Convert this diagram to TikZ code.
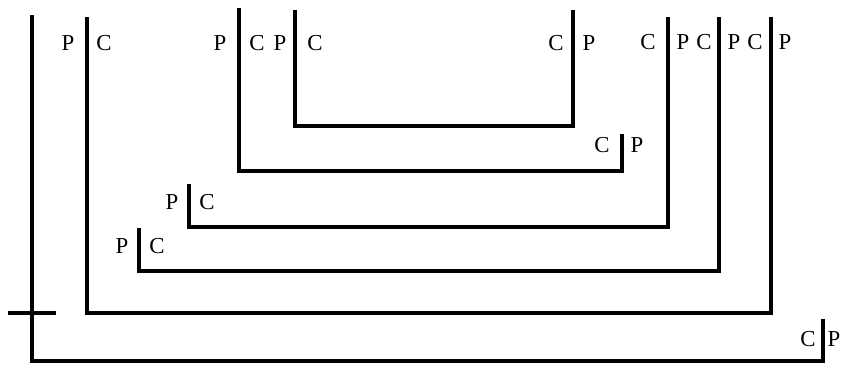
\documentclass[tikz,border=0pt]{standalone}
\usepackage{fontspec}
\setmainfont{Liberation Serif}
\usepackage{tikz}
\usetikzlibrary{positioning}

\tikzset{
  wall/.style={line width=2.3pt, line join=miter},
  lbl/.style={inner sep=0pt, font=\fontsize{13}{15}\selectfont}
}

\begin{document}
\begin{tikzpicture}[x=0.02cm, y=-0.02cm]
\useasboundingbox (0,0) rectangle (842,365);
% bracket corners
\coordinate (a-lt) at (32,15);   \coordinate (a-rb) at (823,361); \coordinate (a-rt) at (823,319);
\coordinate (b-lt) at (87,17);   \coordinate (b-rb) at (771,313); \coordinate (b-rt) at (771,17);
\coordinate (c-lt) at (239,8);   \coordinate (c-rb) at (622,171); \coordinate (c-rt) at (622,134);
\coordinate (d-lt) at (295,10);  \coordinate (d-rb) at (573,126); \coordinate (d-rt) at (573,10);
\coordinate (e-lt) at (189,184); \coordinate (e-rb) at (668,227); \coordinate (e-rt) at (668,17);
\coordinate (f-lt) at (139,228); \coordinate (f-rb) at (719,271); \coordinate (f-rt) at (719,17);
\coordinate (t-l) at (8,313);    \coordinate (t-r) at (56,313);

\draw[wall] (a-lt) |- (a-rb) -- (a-rt);
\draw[wall] (b-lt) |- (b-rb) -- (b-rt);
\draw[wall] (c-lt) |- (c-rb) -- (c-rt);
\draw[wall] (d-lt) |- (d-rb) -- (d-rt);
\draw[wall] (e-lt) |- (e-rb) -- (e-rt);
\draw[wall] (f-lt) |- (f-rb) -- (f-rt);
\draw[wall] (t-l) -- (t-r);

% labels
\node[lbl] (a-c) at (808,339) {C};
\node[lbl] (a-p) at (834,339) {P};
\node[lbl] (b-p) at (68,43) {P};
\node[lbl] (b-c) at (104,43) {C};
\node[lbl] (b-c2) at (755,42) {C};
\node[lbl] (b-p2) at (785,42) {P};
\node[lbl] (c-p) at (220,43) {P};
\node[lbl] (c-c) at (257,43) {C};
\node[lbl] (c-c2) at (602,145) {C};
\node[lbl] (c-p2) at (637,145) {P};
\node[lbl] (d-p) at (280,43) {P};
\node[lbl] (d-c) at (315,43) {C};
\node[lbl] (d-c2) at (556,43) {C};
\node[lbl] (d-p2) at (589,43) {P};
\node[lbl] (e-p) at (172,202) {P};
\node[lbl] (e-c) at (207,202) {C};
\node[lbl] (e-c2) at (648,42) {C};
\node[lbl] (e-p2) at (683,42) {P};
\node[lbl] (f-p) at (122,246) {P};
\node[lbl] (f-c) at (157,246) {C};
\node[lbl] (f-c2) at (704,42) {C};
\node[lbl] (f-p2) at (734,42) {P};
\end{tikzpicture}
\end{document}
